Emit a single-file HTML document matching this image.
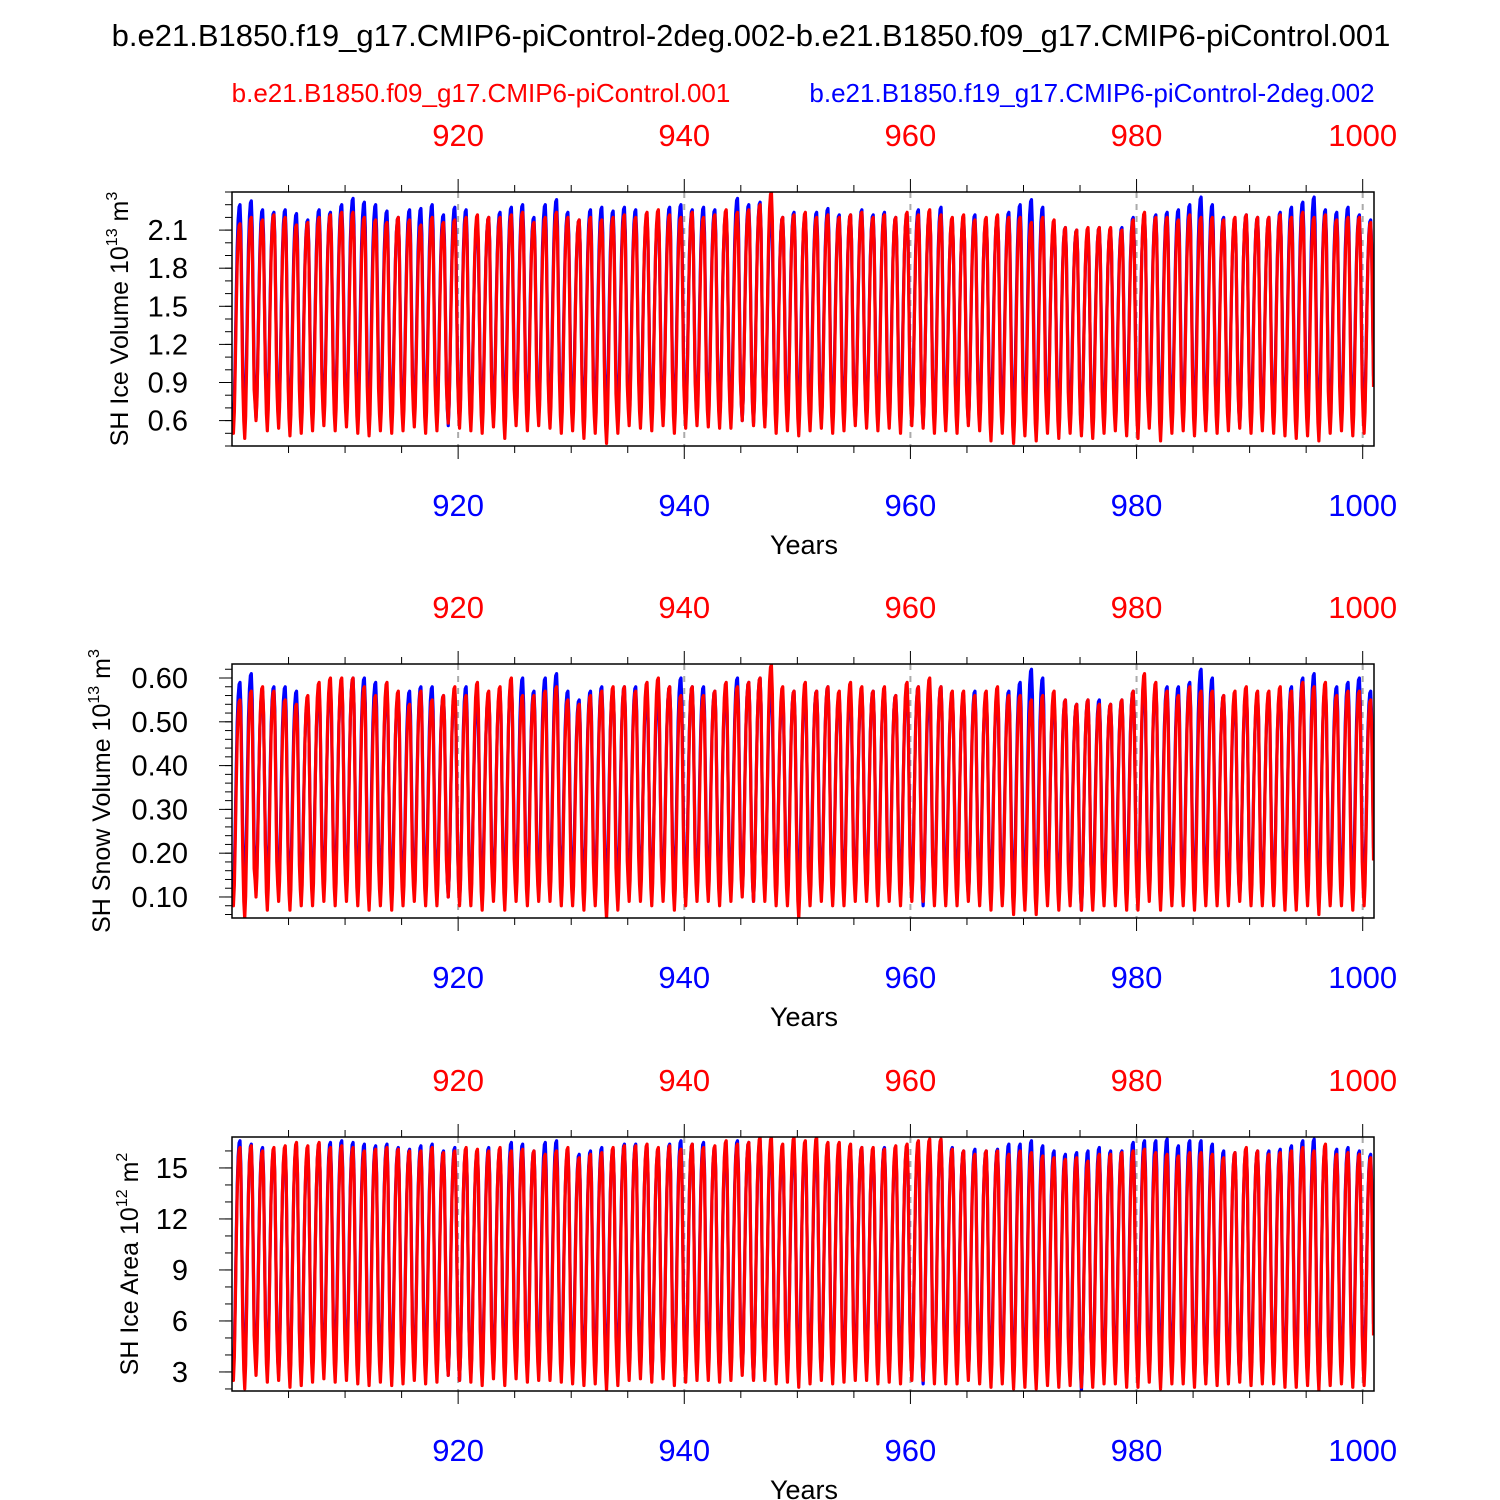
<!DOCTYPE html>
<html><head><meta charset="utf-8">
<style>
html,body{margin:0;padding:0;background:#fff;}
svg{display:block;font-family:"Liberation Sans",sans-serif;}
</style></head>
<body>
<svg id="chart" width="1500" height="1500" viewBox="0 0 1500 1500">
<text x="751" y="46" font-size="31" text-anchor="middle">b.e21.B1850.f19_g17.CMIP6-piControl-2deg.002-b.e21.B1850.f09_g17.CMIP6-piControl.001</text>
<text x="481" y="102" font-size="26" fill="#ff0000" text-anchor="middle">b.e21.B1850.f09_g17.CMIP6-piControl.001</text>
<text x="1092" y="102" font-size="26" fill="#0000ff" text-anchor="middle">b.e21.B1850.f19_g17.CMIP6-piControl-2deg.002</text>
</svg>
<script>
// shared axis data
const xTicks = [920, 940, 960, 980, 1000];
const xMin = 900, xMax = 1001;
const seasonShape = [0.08,0.0,0.1,0.32,0.58,0.8,0.93,0.99,1.0,0.88,0.55,0.22];

// Panel 1: SH Ice Volume
const iceVolTicks = ["0.6","0.9","1.2","1.5","1.8","2.1"];
const iceVolBlueMax = [2.3,2.33,2.26,2.24,2.26,2.23,2.18,2.26,2.24,2.3,2.35,2.32,2.3,2.25,2.2,2.26,2.27,2.3,2.22,2.28,2.26,2.15,2.2,2.24,2.28,2.3,2.2,2.3,2.34,2.24,2.18,2.26,2.28,2.25,2.28,2.26,2.2,2.22,2.28,2.3,2.26,2.28,2.26,2.24,2.35,2.3,2.32,2.25,2.2,2.24,2.22,2.24,2.27,2.22,2.22,2.26,2.22,2.24,2.2,2.22,2.26,2.24,2.28,2.18,2.2,2.22,2.18,2.2,2.24,2.3,2.34,2.28,2.14,2.12,2.1,2.08,2.12,2.1,2.12,2.2,2.22,2.22,2.24,2.26,2.3,2.36,2.3,2.2,2.18,2.22,2.2,2.2,2.24,2.28,2.32,2.36,2.26,2.24,2.28,2.22,2.18];
const iceVolBlueMin = [0.6,0.58,0.62,0.64,0.6,0.56,0.58,0.62,0.64,0.62,0.6,0.64,0.62,0.6,0.58,0.6,0.62,0.6,0.58,0.56,0.6,0.6,0.62,0.6,0.64,0.62,0.6,0.62,0.6,0.64,0.62,0.58,0.6,0.62,0.6,0.62,0.64,0.6,0.62,0.6,0.6,0.62,0.64,0.6,0.62,0.6,0.58,0.6,0.62,0.6,0.62,0.64,0.6,0.6,0.62,0.6,0.6,0.62,0.6,0.62,0.6,0.56,0.6,0.62,0.6,0.58,0.6,0.62,0.6,0.56,0.6,0.58,0.6,0.58,0.6,0.52,0.56,0.6,0.62,0.6,0.58,0.6,0.62,0.6,0.58,0.6,0.56,0.6,0.58,0.56,0.6,0.58,0.6,0.58,0.6,0.58,0.56,0.6,0.62,0.6,0.6];
const iceVolRedMax = [2.15,2.2,2.18,2.22,2.2,2.14,2.16,2.2,2.22,2.24,2.24,2.2,2.18,2.16,2.2,2.18,2.14,2.2,2.16,2.18,2.2,2.22,2.2,2.2,2.22,2.24,2.16,2.2,2.24,2.2,2.18,2.2,2.18,2.2,2.22,2.2,2.24,2.26,2.22,2.2,2.24,2.2,2.22,2.26,2.24,2.26,2.3,2.4,2.2,2.22,2.24,2.2,2.22,2.2,2.22,2.24,2.2,2.22,2.2,2.24,2.22,2.26,2.22,2.2,2.22,2.18,2.2,2.22,2.2,2.2,2.16,2.2,2.18,2.12,2.1,2.12,2.12,2.12,2.1,2.18,2.24,2.2,2.2,2.18,2.22,2.2,2.2,2.18,2.2,2.22,2.2,2.2,2.22,2.2,2.24,2.2,2.22,2.18,2.2,2.2,2.16];
const iceVolRedMin = [0.5,0.46,0.6,0.52,0.54,0.48,0.5,0.52,0.56,0.52,0.55,0.5,0.48,0.52,0.5,0.52,0.55,0.5,0.52,0.58,0.54,0.52,0.5,0.55,0.46,0.56,0.52,0.56,0.54,0.5,0.52,0.46,0.5,0.42,0.5,0.56,0.54,0.52,0.56,0.5,0.54,0.56,0.55,0.54,0.54,0.6,0.56,0.55,0.5,0.52,0.48,0.52,0.54,0.5,0.52,0.56,0.54,0.52,0.54,0.5,0.56,0.54,0.5,0.52,0.5,0.56,0.52,0.44,0.5,0.42,0.48,0.44,0.5,0.46,0.5,0.48,0.46,0.5,0.52,0.48,0.46,0.54,0.44,0.5,0.52,0.48,0.52,0.5,0.52,0.54,0.5,0.52,0.5,0.48,0.46,0.48,0.44,0.5,0.52,0.48,0.5];

// Panel 2: SH Snow Volume
const snowTicks = ["0.10","0.20","0.30","0.40","0.50","0.60"];
const snowBlueMax = [0.59,0.61,0.57,0.58,0.58,0.57,0.55,0.57,0.58,0.59,0.6,0.6,0.59,0.57,0.56,0.57,0.58,0.58,0.56,0.57,0.58,0.55,0.56,0.57,0.59,0.6,0.57,0.6,0.61,0.57,0.55,0.57,0.58,0.57,0.58,0.58,0.56,0.56,0.58,0.6,0.58,0.58,0.57,0.57,0.6,0.59,0.6,0.58,0.56,0.57,0.56,0.57,0.58,0.56,0.56,0.57,0.57,0.57,0.56,0.57,0.58,0.57,0.58,0.56,0.56,0.57,0.56,0.56,0.57,0.59,0.62,0.6,0.55,0.55,0.54,0.55,0.55,0.54,0.55,0.57,0.58,0.58,0.58,0.58,0.59,0.62,0.6,0.56,0.55,0.57,0.56,0.56,0.57,0.58,0.6,0.61,0.58,0.58,0.59,0.6,0.57];
const snowBlueMin = [0.12,0.11,0.12,0.12,0.11,0.1,0.11,0.12,0.12,0.12,0.11,0.12,0.12,0.11,0.11,0.11,0.12,0.11,0.11,0.1,0.09,0.11,0.12,0.11,0.12,0.12,0.11,0.12,0.11,0.12,0.12,0.11,0.11,0.12,0.11,0.12,0.12,0.11,0.12,0.11,0.11,0.12,0.12,0.11,0.12,0.11,0.09,0.11,0.12,0.11,0.12,0.12,0.11,0.11,0.12,0.11,0.11,0.12,0.11,0.12,0.11,0.08,0.11,0.12,0.11,0.1,0.11,0.12,0.11,0.1,0.11,0.1,0.11,0.1,0.11,0.07,0.1,0.11,0.12,0.11,0.1,0.11,0.12,0.11,0.1,0.11,0.1,0.11,0.1,0.1,0.11,0.1,0.11,0.1,0.11,0.1,0.1,0.11,0.12,0.11,0.11];
const snowRedMax = [0.55,0.57,0.58,0.57,0.55,0.54,0.56,0.59,0.6,0.6,0.6,0.58,0.56,0.59,0.57,0.54,0.57,0.55,0.56,0.58,0.56,0.59,0.57,0.58,0.6,0.56,0.56,0.57,0.58,0.55,0.54,0.56,0.57,0.58,0.58,0.57,0.59,0.6,0.58,0.56,0.58,0.56,0.57,0.59,0.58,0.59,0.6,0.63,0.58,0.57,0.59,0.57,0.58,0.57,0.59,0.58,0.57,0.58,0.56,0.59,0.58,0.6,0.58,0.57,0.57,0.56,0.57,0.58,0.56,0.56,0.55,0.56,0.57,0.55,0.54,0.55,0.54,0.54,0.55,0.57,0.61,0.59,0.57,0.56,0.58,0.57,0.57,0.56,0.57,0.58,0.57,0.57,0.58,0.57,0.59,0.58,0.59,0.56,0.57,0.57,0.55];
const snowRedMin = [0.08,0.05,0.1,0.07,0.09,0.07,0.08,0.08,0.09,0.08,0.09,0.08,0.07,0.08,0.07,0.08,0.09,0.08,0.08,0.1,0.08,0.08,0.07,0.09,0.07,0.09,0.08,0.09,0.09,0.08,0.08,0.07,0.08,0.05,0.07,0.09,0.09,0.08,0.09,0.07,0.08,0.09,0.09,0.08,0.09,0.1,0.09,0.09,0.08,0.08,0.05,0.08,0.09,0.08,0.08,0.09,0.09,0.08,0.09,0.08,0.09,0.09,0.08,0.08,0.08,0.09,0.08,0.07,0.08,0.06,0.07,0.06,0.08,0.07,0.08,0.07,0.07,0.08,0.08,0.07,0.07,0.09,0.07,0.08,0.08,0.07,0.08,0.08,0.08,0.09,0.08,0.08,0.08,0.07,0.07,0.08,0.06,0.08,0.08,0.07,0.08];

// Panel 3: SH Ice Area
const areaTicks = ["3","6","9","12","15"];
const areaBlueMax = [16.6,16.4,16.2,16.0,16.1,16.3,16.0,16.4,16.5,16.6,16.5,16.4,16.3,16.4,16.2,16.1,16.3,16.4,16.0,16.2,16.1,16.0,16.2,16.1,16.5,16.4,16.0,16.5,16.6,16.0,15.8,16.0,16.2,16.1,16.4,16.4,16.2,16.1,16.4,16.6,16.4,16.5,16.2,16.2,16.6,16.5,16.6,16.3,16.0,16.2,16.2,16.1,16.3,16.0,16.1,16.2,16.0,16.2,16.0,16.2,16.3,16.2,16.6,16.2,16.0,16.1,16.0,16.1,16.4,16.4,16.6,16.3,16.0,15.8,15.9,16.0,16.2,16.0,16.0,16.5,16.6,16.6,16.7,16.3,16.6,16.6,16.4,16.0,15.9,16.1,16.0,16.0,16.1,16.3,16.6,16.7,16.3,16.1,16.2,16.0,15.8];
const areaBlueMin = [3.2,2.8,3.4,3.0,2.8,2.6,2.8,3.0,3.2,3.4,3.1,3.2,3.0,2.9,2.8,2.9,3.0,3.2,3.0,2.8,2.5,2.8,3.0,3.0,3.2,3.1,2.9,3.1,3.0,3.2,3.1,2.8,3.0,3.2,3.0,3.1,3.2,2.6,3.0,2.9,2.8,3.1,3.2,2.9,3.1,3.0,2.6,2.9,3.1,3.0,3.0,3.2,2.8,2.9,3.1,3.0,3.0,3.1,2.9,3.0,2.9,2.3,2.8,3.0,2.9,2.8,2.9,3.0,2.8,2.6,2.8,2.7,2.8,2.6,2.8,1.9,2.6,2.9,3.0,2.9,2.7,2.9,3.1,2.9,2.8,2.9,2.5,2.8,2.7,2.6,2.8,2.7,2.8,2.7,2.8,2.6,2.4,2.8,3.0,2.9,3.0];
const areaRedMax = [16.2,16.3,16.0,16.2,16.3,16.5,16.3,16.5,16.2,16.3,16.2,16.0,16.1,16.2,16.1,16.0,16.0,16.2,15.9,16.0,16.2,16.1,16.0,16.2,16.0,16.1,16.0,15.8,16.0,16.2,15.6,15.8,15.9,16.2,16.3,16.3,16.4,16.2,16.3,16.1,16.4,16.2,16.3,16.6,16.4,16.5,16.8,16.8,16.4,16.8,16.6,16.8,16.5,16.5,16.4,16.2,16.2,16.1,16.3,16.4,16.6,16.7,16.7,16.1,16.0,15.8,16.0,16.0,15.8,16.0,15.9,15.7,15.6,15.5,15.6,15.4,15.8,15.8,15.9,16.0,16.1,15.9,15.8,15.7,15.9,15.9,15.8,15.6,15.9,16.2,16.0,15.8,15.9,16.0,16.2,16.0,16.4,15.8,15.9,15.8,15.6];
const areaRedMin = [2.5,2.0,2.8,2.4,2.5,2.1,2.2,2.4,2.6,2.4,2.5,2.3,2.2,2.4,2.2,2.3,2.5,2.3,2.4,2.8,2.5,2.4,2.2,2.6,2.2,2.6,2.4,2.5,2.5,2.4,2.3,2.2,2.3,1.9,2.2,2.5,2.6,2.4,2.6,2.2,2.4,2.5,2.5,2.4,2.5,2.8,2.5,2.5,2.3,2.4,2.1,2.3,2.5,2.3,2.4,2.5,2.5,2.3,2.4,2.3,2.5,2.5,2.3,2.3,2.3,2.5,2.3,2.1,2.3,2.0,2.1,2.0,2.2,2.1,2.2,2.1,2.1,2.3,2.3,2.1,2.1,2.4,2.0,2.3,2.3,2.1,2.3,2.2,2.3,2.4,2.2,2.3,2.3,2.1,2.1,2.2,1.9,2.2,2.3,2.1,2.2];

const NS = "http://www.w3.org/2000/svg";
const svg = document.getElementById('chart');
function mk(tag, attrs, parent){
  const e = document.createElementNS(NS, tag);
  for (const k in attrs) e.setAttribute(k, attrs[k]);
  (parent||svg).appendChild(e);
  return e;
}
const X0 = 232, X1 = 1374;
function xScale(v){ return X0 + (v - xMin) / (xMax - xMin) * (X1 - X0); }

function series(maxArr, minArr){
  const out = [];
  for (let y = 0; y < maxArr.length; y++){
    const prevMax = y > 0 ? maxArr[y-1] : maxArr[y];
    for (let m = 0; m < 12; m++){
      const lo = minArr[y];
      const hi = m < 2 ? prevMax : maxArr[y];
      out.push({t: xMin + y + (m + 0.5) / 12, v: lo + (hi - lo) * seasonShape[m]});
    }
  }
  return out;
}

function panel(cfg){
  const top = cfg.top, bot = cfg.top + 254;
  const yScale = v => bot - (v - cfg.yMin) / (cfg.yMax - cfg.yMin) * (bot - top);
  const g = mk('g', {});
  
  
  xTicks.forEach(t => {
    const gl = mk('line', {x1: xScale(t), x2: xScale(t), y1: top, y2: bot, stroke: '#aaa', 'stroke-width': 2, 'stroke-dasharray': '6,6'}, g);
    
    
  });
  const clipId = 'clip' + cfg.top;
  const cp = mk('clipPath', {id: clipId}, g);
  mk('rect', {x: X0, y: top, width: X1 - X0, height: bot - top}, cp);
  const lines = mk('g', {'clip-path': 'url(#' + clipId + ')'}, g);
  [[cfg.blueMax, cfg.blueMin, '#0000ff', 'blue-series'], [cfg.redMax, cfg.redMin, '#ff0000', 'red-series']].forEach(s => {
    const pts = series(s[0], s[1]);
    let d = '';
    pts.forEach((p, i) => { d += (i ? 'L' : 'M') + xScale(p.t).toFixed(2) + ',' + yScale(p.v).toFixed(2); });
    const path = mk('path', {d: d, fill: 'none', stroke: s[2], 'stroke-width': 3.2, 'stroke-linejoin': 'round'}, lines);
    
    
  });
  const frame = mk('rect', {x: X0, y: top, width: X1 - X0, height: bot - top, fill: 'none', stroke: '#000', 'stroke-width': 1.5}, g);
  
  
  for (let yr = 905; yr <= 1000; yr += 5){
    const major = yr % 20 === 0;
    const L = major ? 13 : 7;
    mk('line', {x1: xScale(yr), x2: xScale(yr), y1: top, y2: top - L, stroke: '#000', 'stroke-width': 1}, g);
    mk('line', {x1: xScale(yr), x2: xScale(yr), y1: bot, y2: bot + L, stroke: '#000', 'stroke-width': 1}, g);
  }
  xTicks.forEach(t => {
    const a = mk('text', {x: xScale(t), y: top - 46, 'font-size': 31, fill: '#ff0000', 'text-anchor': 'middle'}, g);
    a.textContent = t;
    
    
    const b = mk('text', {x: xScale(t), y: bot + 70, 'font-size': 31, fill: '#0000ff', 'text-anchor': 'middle'}, g);
    b.textContent = t;
    
    
  });
  const xt = mk('text', {x: 804, y: bot + 108, 'font-size': 27, 'text-anchor': 'middle'}, g);
  xt.textContent = 'Years';
  
  
  for (let v = Math.ceil(cfg.yMin / cfg.minor) * cfg.minor; v <= cfg.yMax + 1e-9; v += cfg.minor){
    mk('line', {x1: X0, x2: X0 - 7, y1: yScale(v), y2: yScale(v), stroke: '#000', 'stroke-width': 1}, g);
  }
  cfg.ticks.forEach(t => {
    const v = parseFloat(t);
    mk('line', {x1: X0, x2: X0 - 13, y1: yScale(v), y2: yScale(v), stroke: '#000', 'stroke-width': 1}, g);
    const tx = mk('text', {x: X0 - 44, y: yScale(v) + 10, 'font-size': 29, 'text-anchor': 'end'}, g);
    tx.textContent = t;
    
    
  });
  const yt = mk('text', {transform: 'translate(' + cfg.titleX + ',' + (top + 127) + ') rotate(-90)', 'font-size': 25, 'text-anchor': 'middle'}, g);
  yt.innerHTML = cfg.title + ' 10<tspan font-size="16" dy="-11">' + cfg.exp + '</tspan><tspan dy="11"> m</tspan><tspan font-size="16" dy="-11">' + cfg.unitExp + '</tspan>';
  
  
}

panel({name: 'ice-volume-panel', top: 192, yMin: 0.4, yMax: 2.4, minor: 0.1, ticks: iceVolTicks,
  blueMax: iceVolBlueMax, blueMin: iceVolBlueMin, redMax: iceVolRedMax, redMin: iceVolRedMin,
  title: 'SH Ice Volume', exp: '13', unitExp: '3', titleX: 128});
panel({name: 'snow-volume-panel', top: 664, yMin: 0.052, yMax: 0.632, minor: 0.02, ticks: snowTicks,
  blueMax: snowBlueMax, blueMin: snowBlueMin, redMax: snowRedMax, redMin: snowRedMin,
  title: 'SH Snow Volume', exp: '13', unitExp: '3', titleX: 110});
panel({name: 'ice-area-panel', top: 1137, yMin: 1.88, yMax: 16.82, minor: 1, ticks: areaTicks,
  blueMax: areaBlueMax, blueMin: areaBlueMin, redMax: areaRedMax, redMin: areaRedMin,
  title: 'SH Ice Area', exp: '12', unitExp: '2', titleX: 138});
</script>
</body></html>
